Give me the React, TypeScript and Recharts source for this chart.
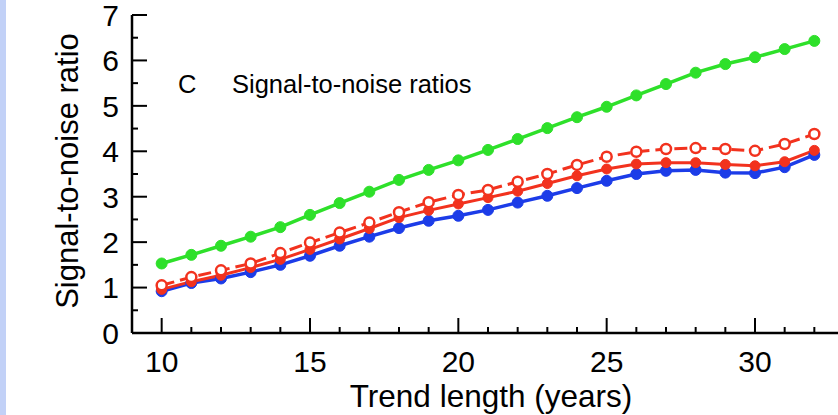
import { LineChart, Line, XAxis, YAxis, Label } from 'recharts';

const years = [10, 11, 12, 13, 14, 15, 16, 17, 18, 19, 20, 21, 22, 23, 24, 25, 26, 27, 28, 29, 30, 31, 32];
const greenSnr = [1.53, 1.72, 1.92, 2.12, 2.33, 2.6, 2.86, 3.11, 3.37, 3.59, 3.8, 4.03, 4.27, 4.51, 4.75, 4.98, 5.23, 5.48, 5.73, 5.92, 6.07, 6.25, 6.43];
const redOpenSnr = [1.05, 1.23, 1.38, 1.53, 1.76, 1.99, 2.21, 2.43, 2.66, 2.88, 3.04, 3.15, 3.33, 3.5, 3.7, 3.88, 3.99, 4.05, 4.07, 4.05, 4.01, 4.16, 4.38];
const redSnr = [0.96, 1.13, 1.27, 1.44, 1.62, 1.84, 2.07, 2.3, 2.54, 2.7, 2.84, 2.98, 3.12, 3.29, 3.46, 3.61, 3.72, 3.75, 3.75, 3.71, 3.68, 3.77, 4.02];
const blueSnr = [0.92, 1.1, 1.2, 1.34, 1.5, 1.7, 1.92, 2.12, 2.31, 2.47, 2.58, 2.71, 2.87, 3.02, 3.19, 3.35, 3.5, 3.57, 3.59, 3.53, 3.52, 3.65, 3.92];

const xTicks = [10, 11, 12, 13, 14, 15, 16, 17, 18, 19, 20, 21, 22, 23, 24, 25, 26, 27, 28, 29, 30, 31, 32];
const xLabels = [10, 15, 20, 25, 30];
const yTicks = [0, 0.5, 1, 1.5, 2, 2.5, 3, 3.5, 4, 4.5, 5, 5.5, 6, 6.5, 7];
const yLabels = [0, 1, 2, 3, 4, 5, 6, 7];

const data = years.map((year, i) => ({
  year,
  green: greenSnr[i],
  redOpen: redOpenSnr[i],
  red: redSnr[i],
  blue: blueSnr[i],
}));

const FONT = '"Liberation Sans", Arial, Helvetica, sans-serif';
const MAJOR = 15;
const MINOR = 6;
const Y_GAP = 13; // left axis -> tick label right edge
const X_GAP = 39; // bottom axis -> tick label baseline

const GREEN = '#2ee02a';
const RED = '#f2321e';
const BLUE = '#1c3ce8';

const LeftTick = (props: any) => {
  const { x, y, payload } = props;
  const major = yLabels.includes(payload.value);
  const ax = x + Y_GAP;
  return (
    <g>
      <line x1={ax} x2={ax + (major ? MAJOR : MINOR)} y1={y} y2={y} stroke="#000" strokeWidth={2} />
      {major && (
        <text x={x} y={y} dy="0.36em" textAnchor="end" fontSize={30} fontFamily={FONT} fill="#000">
          {payload.value}
        </text>
      )}
    </g>
  );
};

const RightTick = (props: any) => {
  const { x, y, payload } = props;
  const major = yLabels.includes(payload.value);
  return <line x1={x} x2={x - (major ? MAJOR : MINOR)} y1={y} y2={y} stroke="#000" strokeWidth={2} />;
};

const BottomTick = (props: any) => {
  const { x, y, payload } = props;
  const major = xLabels.includes(payload.value);
  const ay = y - X_GAP;
  return (
    <g>
      <line x1={x} x2={x} y1={ay} y2={ay - (major ? MAJOR : MINOR)} stroke="#000" strokeWidth={2} />
      {major && (
        <text x={x} y={y} textAnchor="middle" fontSize={30} fontFamily={FONT} fill="#000">
          {payload.value}
        </text>
      )}
    </g>
  );
};

const TopTick = (props: any) => {
  const { x, y, payload } = props;
  const major = xLabels.includes(payload.value);
  return <line x1={x} x2={x} y1={y} y2={y + (major ? MAJOR : MINOR)} stroke="#000" strokeWidth={2} />;
};

const YTitle = (props: any) => {
  const { viewBox } = props;
  const cx = viewBox.x + 78;
  const cy = viewBox.y + viewBox.height / 2 - 3;
  return (
    <text x={cx} y={cy} transform={`rotate(-90 ${cx} ${cy})`} textAnchor="middle" fontSize={31} fontFamily={FONT} fill="#000">
      Signal-to-noise ratio
    </text>
  );
};

const XTitle = (props: any) => {
  const { viewBox } = props;
  return (
    <text x={viewBox.x + viewBox.width / 2 + 3} y={viewBox.y + 74} textAnchor="middle" fontSize={31.5} fontFamily={FONT} fill="#000">
      Trend length (years)
    </text>
  );
};

const axisLine = { stroke: '#000', strokeWidth: 2.5 };

export default function App() {
  return (
    <div style={{ position: 'absolute', left: 0, top: 0, width: 838, height: 415, overflow: 'hidden', background: '#fff' }}>
      <LineChart width={860} height={415} data={data} margin={{ top: 15, right: 0, bottom: 0, left: 0 }}>
        <XAxis
          dataKey="year"
          type="number"
          domain={[9, 33]}
          ticks={xTicks}
          interval={0}
          height={82}
          tickSize={0}
          tickMargin={X_GAP}
          axisLine={axisLine}
          tick={BottomTick}
        >
          <Label content={XTitle} />
        </XAxis>
        <XAxis
          xAxisId="top"
          orientation="top"
          dataKey="year"
          type="number"
          domain={[9, 33]}
          ticks={xTicks}
          interval={0}
          height={0}
          tickSize={0}
          tickMargin={0}
          axisLine={axisLine}
          tick={TopTick}
        />
        <YAxis
          type="number"
          domain={[0, 7]}
          ticks={yTicks}
          interval={0}
          width={132}
          tickSize={0}
          tickMargin={Y_GAP}
          axisLine={axisLine}
          tick={LeftTick}
        >
          <Label content={YTitle} />
        </YAxis>
        <YAxis
          yAxisId="right"
          orientation="right"
          type="number"
          domain={[0, 7]}
          ticks={yTicks}
          interval={0}
          width={16}
          tickSize={0}
          tickMargin={0}
          axisLine={axisLine}
          tick={RightTick}
        />
        <Line
          dataKey="blue"
          type="linear"
          stroke={BLUE}
          strokeWidth={3.5}
          dot={{ r: 5.5, fill: BLUE, stroke: BLUE, strokeWidth: 1 }}
          isAnimationActive={false}
        />
        <Line
          dataKey="red"
          type="linear"
          stroke={RED}
          strokeWidth={3}
          dot={{ r: 5, fill: RED, stroke: RED, strokeWidth: 1 }}
          isAnimationActive={false}
        />
        <Line
          dataKey="redOpen"
          type="linear"
          stroke={RED}
          strokeWidth={3}
          strokeDasharray="13 6"
          dot={{ r: 5, fill: '#fff', stroke: RED, strokeWidth: 2.5, strokeDasharray: '0' }}
          isAnimationActive={false}
        />
        <Line
          dataKey="green"
          type="linear"
          stroke={GREEN}
          strokeWidth={3.5}
          dot={{ r: 5.5, fill: GREEN, stroke: GREEN, strokeWidth: 1 }}
          isAnimationActive={false}
        />
      </LineChart>
      <svg width={838} height={415} style={{ position: 'absolute', left: 0, top: 0, pointerEvents: 'none', zIndex: 2 }}>
        <rect x={0} y={0} width={6} height={415} fill="#c2d1f7" />
        <text x={178} y={93} fontSize={25.5} fontFamily={FONT} fill="#000">C</text>
        <text x={232} y={93} fontSize={25.5} fontFamily={FONT} fill="#000">Signal-to-noise ratios</text>
      </svg>
    </div>
  );
}
